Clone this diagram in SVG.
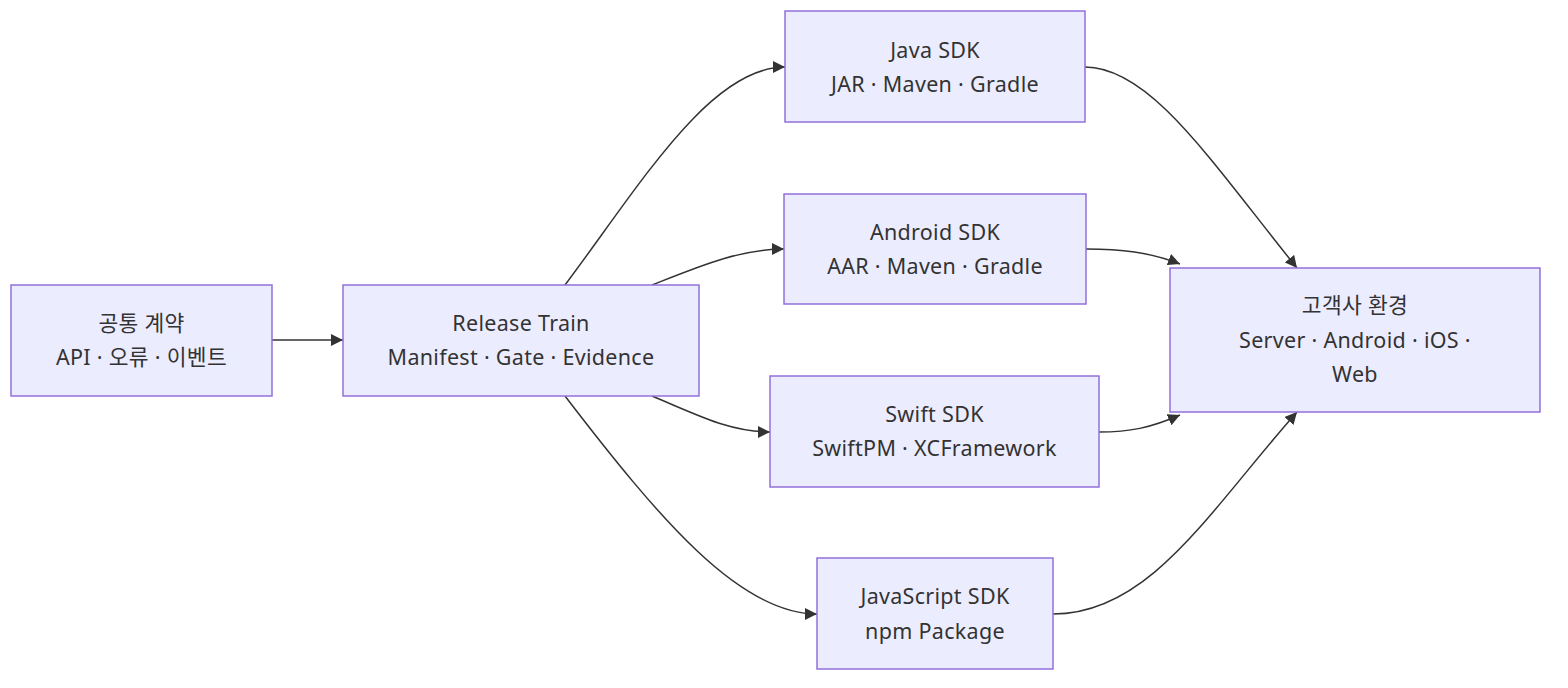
<svg xmlns="http://www.w3.org/2000/svg" width="1568" height="688" viewBox="0 0 1568 688">
<style>
.node rect{fill:#ECECFF;stroke:#9370DB;stroke-width:1.5}
.node text{font-family:"Noto Sans","Noto Sans CJK KR",sans-serif;font-size:21.5px;letter-spacing:0.3px;fill:#333;text-anchor:middle}
.edges path{fill:none;stroke:#333;stroke-width:1.5;marker-end:url(#arrow)}
</style>
<defs>
<marker id="arrow" viewBox="0 0 10 10" refX="10" refY="5" markerUnits="userSpaceOnUse" markerWidth="12" markerHeight="12" orient="auto">
<path d="M0,0 L10,5 L0,10 z" fill="#333"/>
</marker>
</defs>
<rect width="1568" height="688" fill="#fff"/>
<g class="edges">
<path d="M272,340 L343,340"/>
<path d="M565,285 C640,185 710,67 785,67"/>
<path d="M652,285 C700,266 740,249 784,249"/>
<path d="M652,396 C700,416 730,432 770,432"/>
<path d="M565,396 C660,520 740,614 817,614"/>
<path d="M1085,67 C1150,67 1210,160 1297,268"/>
<path d="M1086,249 C1120,249 1150,252 1180,264"/>
<path d="M1099,432 C1130,432 1150,428 1180,415"/>
<path d="M1053,614 C1150,614 1210,510 1297,412"/>
</g>
<g id="contract" class="node"><rect x="11" y="285" width="261" height="111"/><text x="141.5" y="331">공통 계약</text><text x="141.5" y="365">API · 오류 · 이벤트</text></g>
<g id="release" class="node"><rect x="343" y="285" width="356" height="111"/><text x="521" y="331">Release Train</text><text x="521" y="365">Manifest · Gate · Evidence</text></g>
<g id="java" class="node"><rect x="785" y="11" width="300" height="111"/><text x="935" y="58">Java SDK</text><text x="935" y="92">JAR · Maven · Gradle</text></g>
<g id="android" class="node"><rect x="784" y="194" width="302" height="110"/><text x="935" y="240">Android SDK</text><text x="935" y="274">AAR · Maven · Gradle</text></g>
<g id="swift" class="node"><rect x="770" y="376" width="329" height="111"/><text x="934.5" y="422">Swift SDK</text><text x="934.5" y="456">SwiftPM · XCFramework</text></g>
<g id="js" class="node"><rect x="817" y="558" width="236" height="111"/><text x="935" y="604">JavaScript SDK</text><text x="935" y="639">npm Package</text></g>
<g id="customer" class="node"><rect x="1170" y="268" width="370" height="144"/><text x="1355" y="313">고객사 환경</text><text x="1355" y="348">Server · Android · iOS ·</text><text x="1355" y="382">Web</text></g>
</svg>
